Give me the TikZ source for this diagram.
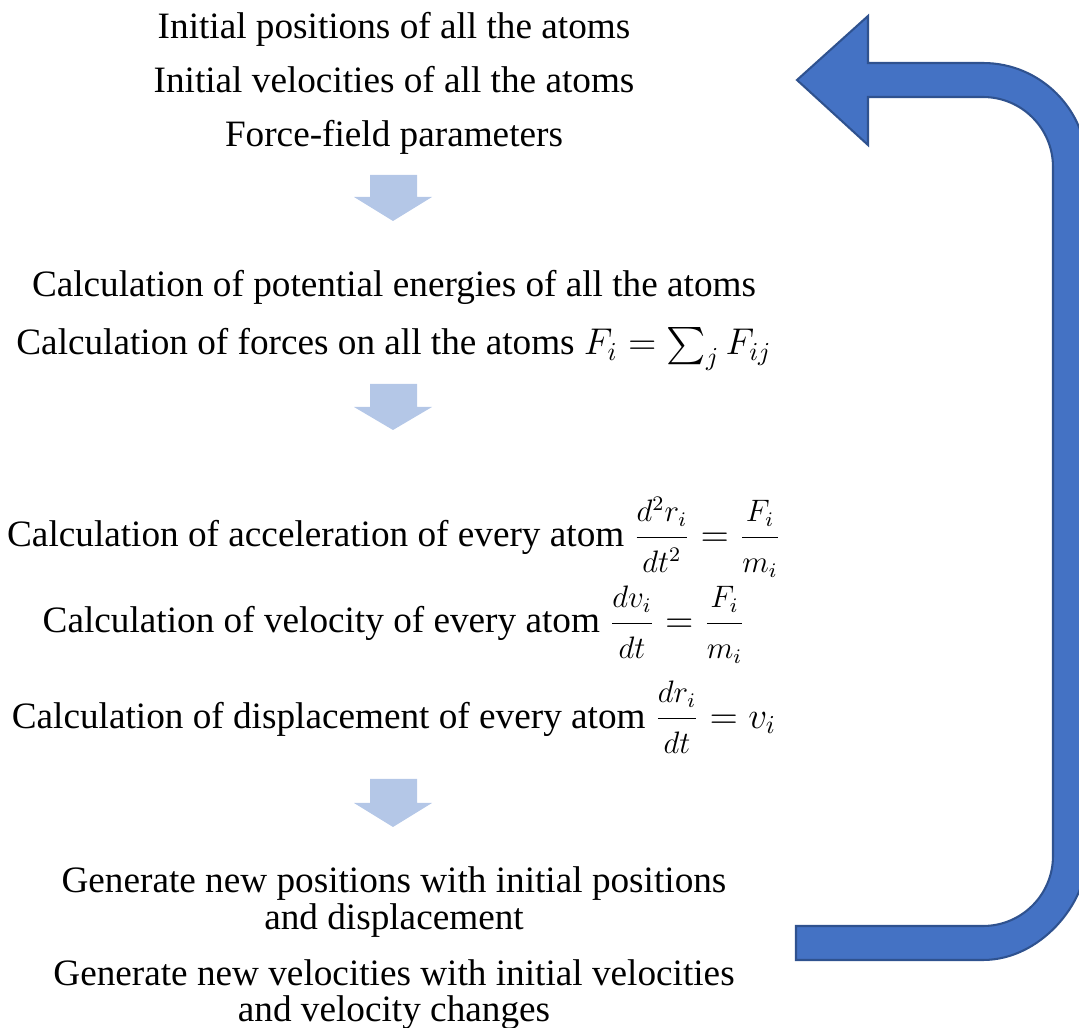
\documentclass[tikz,border=0pt]{standalone}
\usepackage{amsmath}
\usepackage{fontspec}
\setmainfont{Liberation Serif}
\usetikzlibrary{calc,positioning}
\definecolor{cStep}{HTML}{B4C7E7}
\definecolor{cLoop}{HTML}{4472C4}
\definecolor{cLoopEdge}{HTML}{2F528F}
\tikzset{
  line/.style={anchor=base,inner sep=0pt,font=\fontsize{14.4}{17.3}\selectfont},
  stepdown/.style={fill=cStep,draw=none},
  loop/.style={fill=cLoop,draw=cLoopEdge,line width=.8pt,line join=miter},
}
\newcommand{\midsize}[1]{\mbox{\fontsize{11.6}{14}\selectfont$#1$}}
\newcommand{\rate}[2]{\dfrac{\midsize{#1}}{\midsize{#2}}}
\begin{document}
\begin{tikzpicture}[x=0.0136cm,y=-0.0136cm]
  \useasboundingbox (0,0) rectangle (1079,1028);
  \clip (0,0) rectangle (1079,1028);
  % input
  \node[line] (pos) at (394,39) {Initial positions of all the atoms};
  \node[line] (vel) at (394,93) {Initial velocities of all the atoms};
  \node[line] (ff) at (394,147) {Force-field parameters};
  % forces
  \node[line] (pot) at (394,297) {Calculation of potential energies of all the atoms};
  \node[line] (frc) at (394,355) {Calculation of forces on all the atoms $F_i=\sum_j F_{ij}$};
  % integration
  \node[line] (acc) at (394,547) {Calculation of acceleration of every atom $\rate{d^2r_i}{dt^2}=\rate{F_i}{m_i}$};
  \node[line] (dv) at (394,633) {Calculation of velocity of every atom $\rate{dv_i}{dt}=\rate{F_i}{m_i}$};
  \node[line] (dr) at (394,728) {Calculation of displacement of every atom $\rate{dr_i}{dt}=v_i$};
  % update
  \node[line] (npos) at (394,893) {Generate new positions with initial positions};
  \node[line] (npos2) at (394,930) {and displacement};
  \node[line] (nvel) at (394,985) {Generate new velocities with initial velocities};
  \node[line] (nvel2) at (394,1022) {and velocity changes};
  % block arrows between the steps
  \foreach \t/\h/\b in {175/197/221, 384/407/430, 779/803/827}
    \fill[stepdown] (370,\t) -- (417,\t) -- (417,\h) -- (432,\h) -- (393,\b)
      -- (354,\h) -- (370,\h) -- cycle;
  % loop back to the start
  \draw[loop] (868,16) -- (797,80) -- (868,145) -- (868,97) -- (983,97)
    .. controls (1021.7,97) and (1053,128.3) .. (1053,167) -- (1053,856)
    .. controls (1053,894.7) and (1021.7,926) .. (983,926) -- (796,926)
    -- (796,960) -- (983,960)
    .. controls (1040.4,960) and (1087,903.4) .. (1087,856) -- (1087,167)
    .. controls (1087,109.6) and (1040.4,63) .. (983,63) -- (868,63) -- cycle;
\end{tikzpicture}
\end{document}
